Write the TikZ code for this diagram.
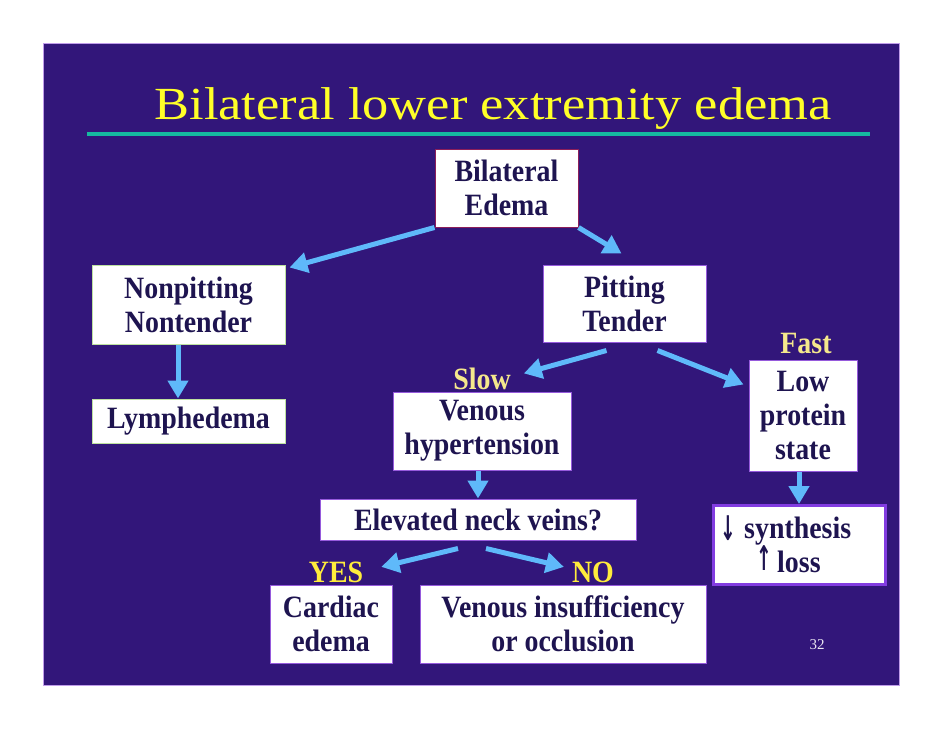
\documentclass[tikz,border=0pt]{standalone}
\usepackage{fontspec}
\setmainfont{Liberation Serif}
\newfontfamily\bodyfont[FakeStretch=0.9]{Liberation Serif}
\newfontfamily\titlefont[FakeStretch=1.14]{Liberation Serif}
\newfontfamily\symfont[FakeStretch=0.55]{DejaVu Sans}
\usetikzlibrary{arrows.meta,calc}
\definecolor{slidebg}{RGB}{50,22,122}
\definecolor{txt}{RGB}{30,20,80}
\definecolor{teal}{RGB}{22,185,160}
\definecolor{arrblue}{RGB}{95,185,250}
\definecolor{ttl}{RGB}{255,255,40}
\definecolor{lblpale}{RGB}{245,232,140}
\definecolor{lblyel}{RGB}{255,236,60}
\definecolor{bdgreen}{RGB}{190,225,160}
\definecolor{bdpurple}{RGB}{150,90,220}
\definecolor{bdmaroon}{RGB}{140,30,90}
\definecolor{bdthick}{RGB}{130,60,225}
\tikzset{
  x=1pt, y=-1pt,
  box/.style={draw=bdpurple, line width=1pt, fill=white, text=txt, align=center,
    inner sep=0pt, font=\bodyfont\fontsize{31}{34}\selectfont\bfseries},
  lbl/.style={font=\bodyfont\fontsize{31}{34}\selectfont\bfseries, inner sep=0pt},
  arr/.style={draw=arrblue, line width=5pt, -{Triangle[length=18pt,width=20pt]}}
}
\begin{document}
\begin{tikzpicture}
\useasboundingbox (0,0) rectangle (942,728);
\fill[white] (0,0) rectangle (942,728);
\fill[slidebg] (43,43) rectangle (899,685);
\draw[bdpurple!60, line width=0.6pt] (43,43) rectangle (899,685);
% title
\node[anchor=base, text=ttl, inner sep=0pt, font=\titlefont\fontsize{46}{52}\selectfont] (title) at (493,119) {Bilateral lower extremity edema};
\draw[teal, line width=4pt] (87,134) -- (870,134);
% boxes
\node[box, draw=bdmaroon, minimum width=143pt, minimum height=78pt] (be) at (506.5,188) {Bilateral\\Edema};
\node[box, draw=bdgreen, minimum width=193pt, minimum height=79pt] (np) at (188.5,304.5) {Nonpitting\\Nontender};
\node[box, minimum width=163pt, minimum height=77pt] (pt) at (624.5,303.5) {Pitting\\Tender};
\node[box, draw=bdgreen, minimum width=193pt, minimum height=44pt] (ly) at (188.5,421) {Lymphedema};
\node[box, minimum width=178pt, minimum height=78pt] (vh) at (482,431) {Venous\\hypertension};
\node[box, minimum width=108pt, minimum height=111pt] (lp) at (803,415.5) {Low\\protein\\state};
\node[box, minimum width=316pt, minimum height=41pt] (en) at (478,519.5) {Elevated neck veins?};
\node[box, draw=bdthick, line width=3pt, minimum width=172pt, minimum height=79pt] (sl) at (799.5,545) {};
\node[box, minimum width=122pt, minimum height=78pt] (ce) at (331,624) {Cardiac\\edema};
\node[box, minimum width=286pt, minimum height=78pt] (vi) at (563,624) {Venous insufficiency\\or occlusion};
% synthesis box contents
\node[anchor=base west, text=txt, inner sep=0pt, font=\bodyfont\fontsize{31}{34}\selectfont\bfseries] (syn) at (744,538) {synthesis};
\node[anchor=base west, text=txt, inner sep=0pt, font=\bodyfont\fontsize{31}{34}\selectfont\bfseries] (loss) at (777,572) {loss};
\node[anchor=base, text=txt, inner sep=0pt, font=\symfont\fontsize{34}{36}\selectfont\bfseries] (dn) at (728,540) {↓};
\node[anchor=base, text=txt, inner sep=0pt, font=\symfont\fontsize{34}{36}\selectfont\bfseries] (up) at (764,570) {↑};
% labels
\node[lbl, text=lblpale, anchor=base] (slow) at (482,389) {Slow};
\node[lbl, text=lblpale, anchor=base] (fast) at (806,353) {Fast};
\node[lbl, text=lblyel, anchor=base] (yes) at (336,582) {YES};
\node[lbl, text=lblyel, anchor=base] (no) at (593,582) {NO};
\node[anchor=base, text=white!90!slidebg, inner sep=0pt, font=\fontsize{15}{18}\selectfont] (pg) at (817,649) {32};
% arrows
\draw[arr] (be.south west) -- ($(np.north east)+(4,3)$);
\draw[arr] (be.south east) -- ($(pt.north)+(-3,-11)$);
\draw[arr] (np.south -| 178,0) -- (ly.north -| 178,0);
\draw[arr] ($(pt.south)+(-18,8)$) -- ($(slow.east)+(13,-5)$);
\draw[arr] ($(pt.south)+(33,8)$) -- ($(lp.west)+(-5,-31)$);
\draw[arr] (vh.south -| 478,0) -- (en.north -| 478,0);
\draw[arr] (lp.south -| 799,0) -- (sl.north -| 799,0);
\draw[arr] ($(en.south)+(-20,8)$) -- ($(yes.east)+(18,-5)$);
\draw[arr] ($(en.south)+(8,8)$) -- ($(no.west)+(-8,-5)$);
\end{tikzpicture}
\end{document}
